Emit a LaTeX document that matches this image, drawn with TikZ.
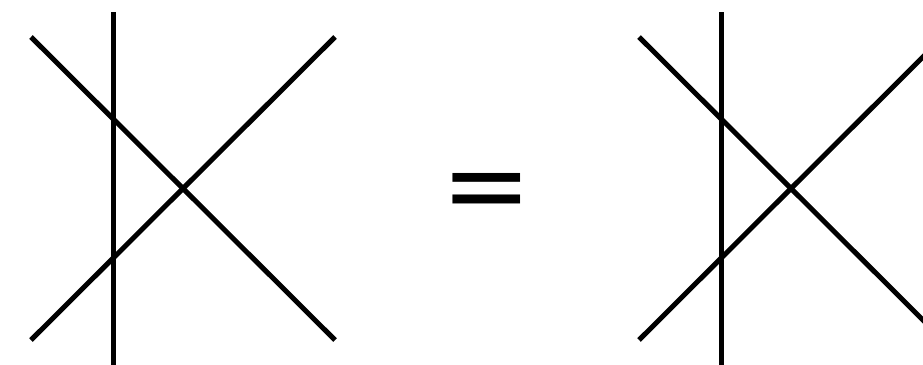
\documentclass[tikz,border=0pt]{standalone}
\usepackage{fontspec}
\newfontfamily\eqfont{DejaVu Sans}

\begin{document}
\begin{tikzpicture}[x=1pt, y=-1pt, line join=round, strand/.style={line width=5pt, black}]
	\useasboundingbox (0,0) rectangle (923,364);
	\clip (0,0) rectangle (923,364);
	\foreach \n/\s in {l/0, r/608} {
		\coordinate (\n-top) at (113+\s, 12);
		\coordinate (\n-bot) at (113+\s, 366);
		\coordinate (\n-nw) at (31+\s, 37);
		\coordinate (\n-se) at (335+\s, 340);
		\coordinate (\n-sw) at (31+\s, 340);
		\coordinate (\n-ne) at (335+\s, 37);
		\draw[strand] (\n-top) -- (\n-bot);
		\draw[strand] (\n-nw) -- (\n-se);
		\draw[strand] (\n-sw) -- (\n-ne);
	}
	\node[inner sep=0pt] (eq) at (487, 198) {\eqfont\fontsize{108}{108}\selectfont =};
\end{tikzpicture}
\end{document}
